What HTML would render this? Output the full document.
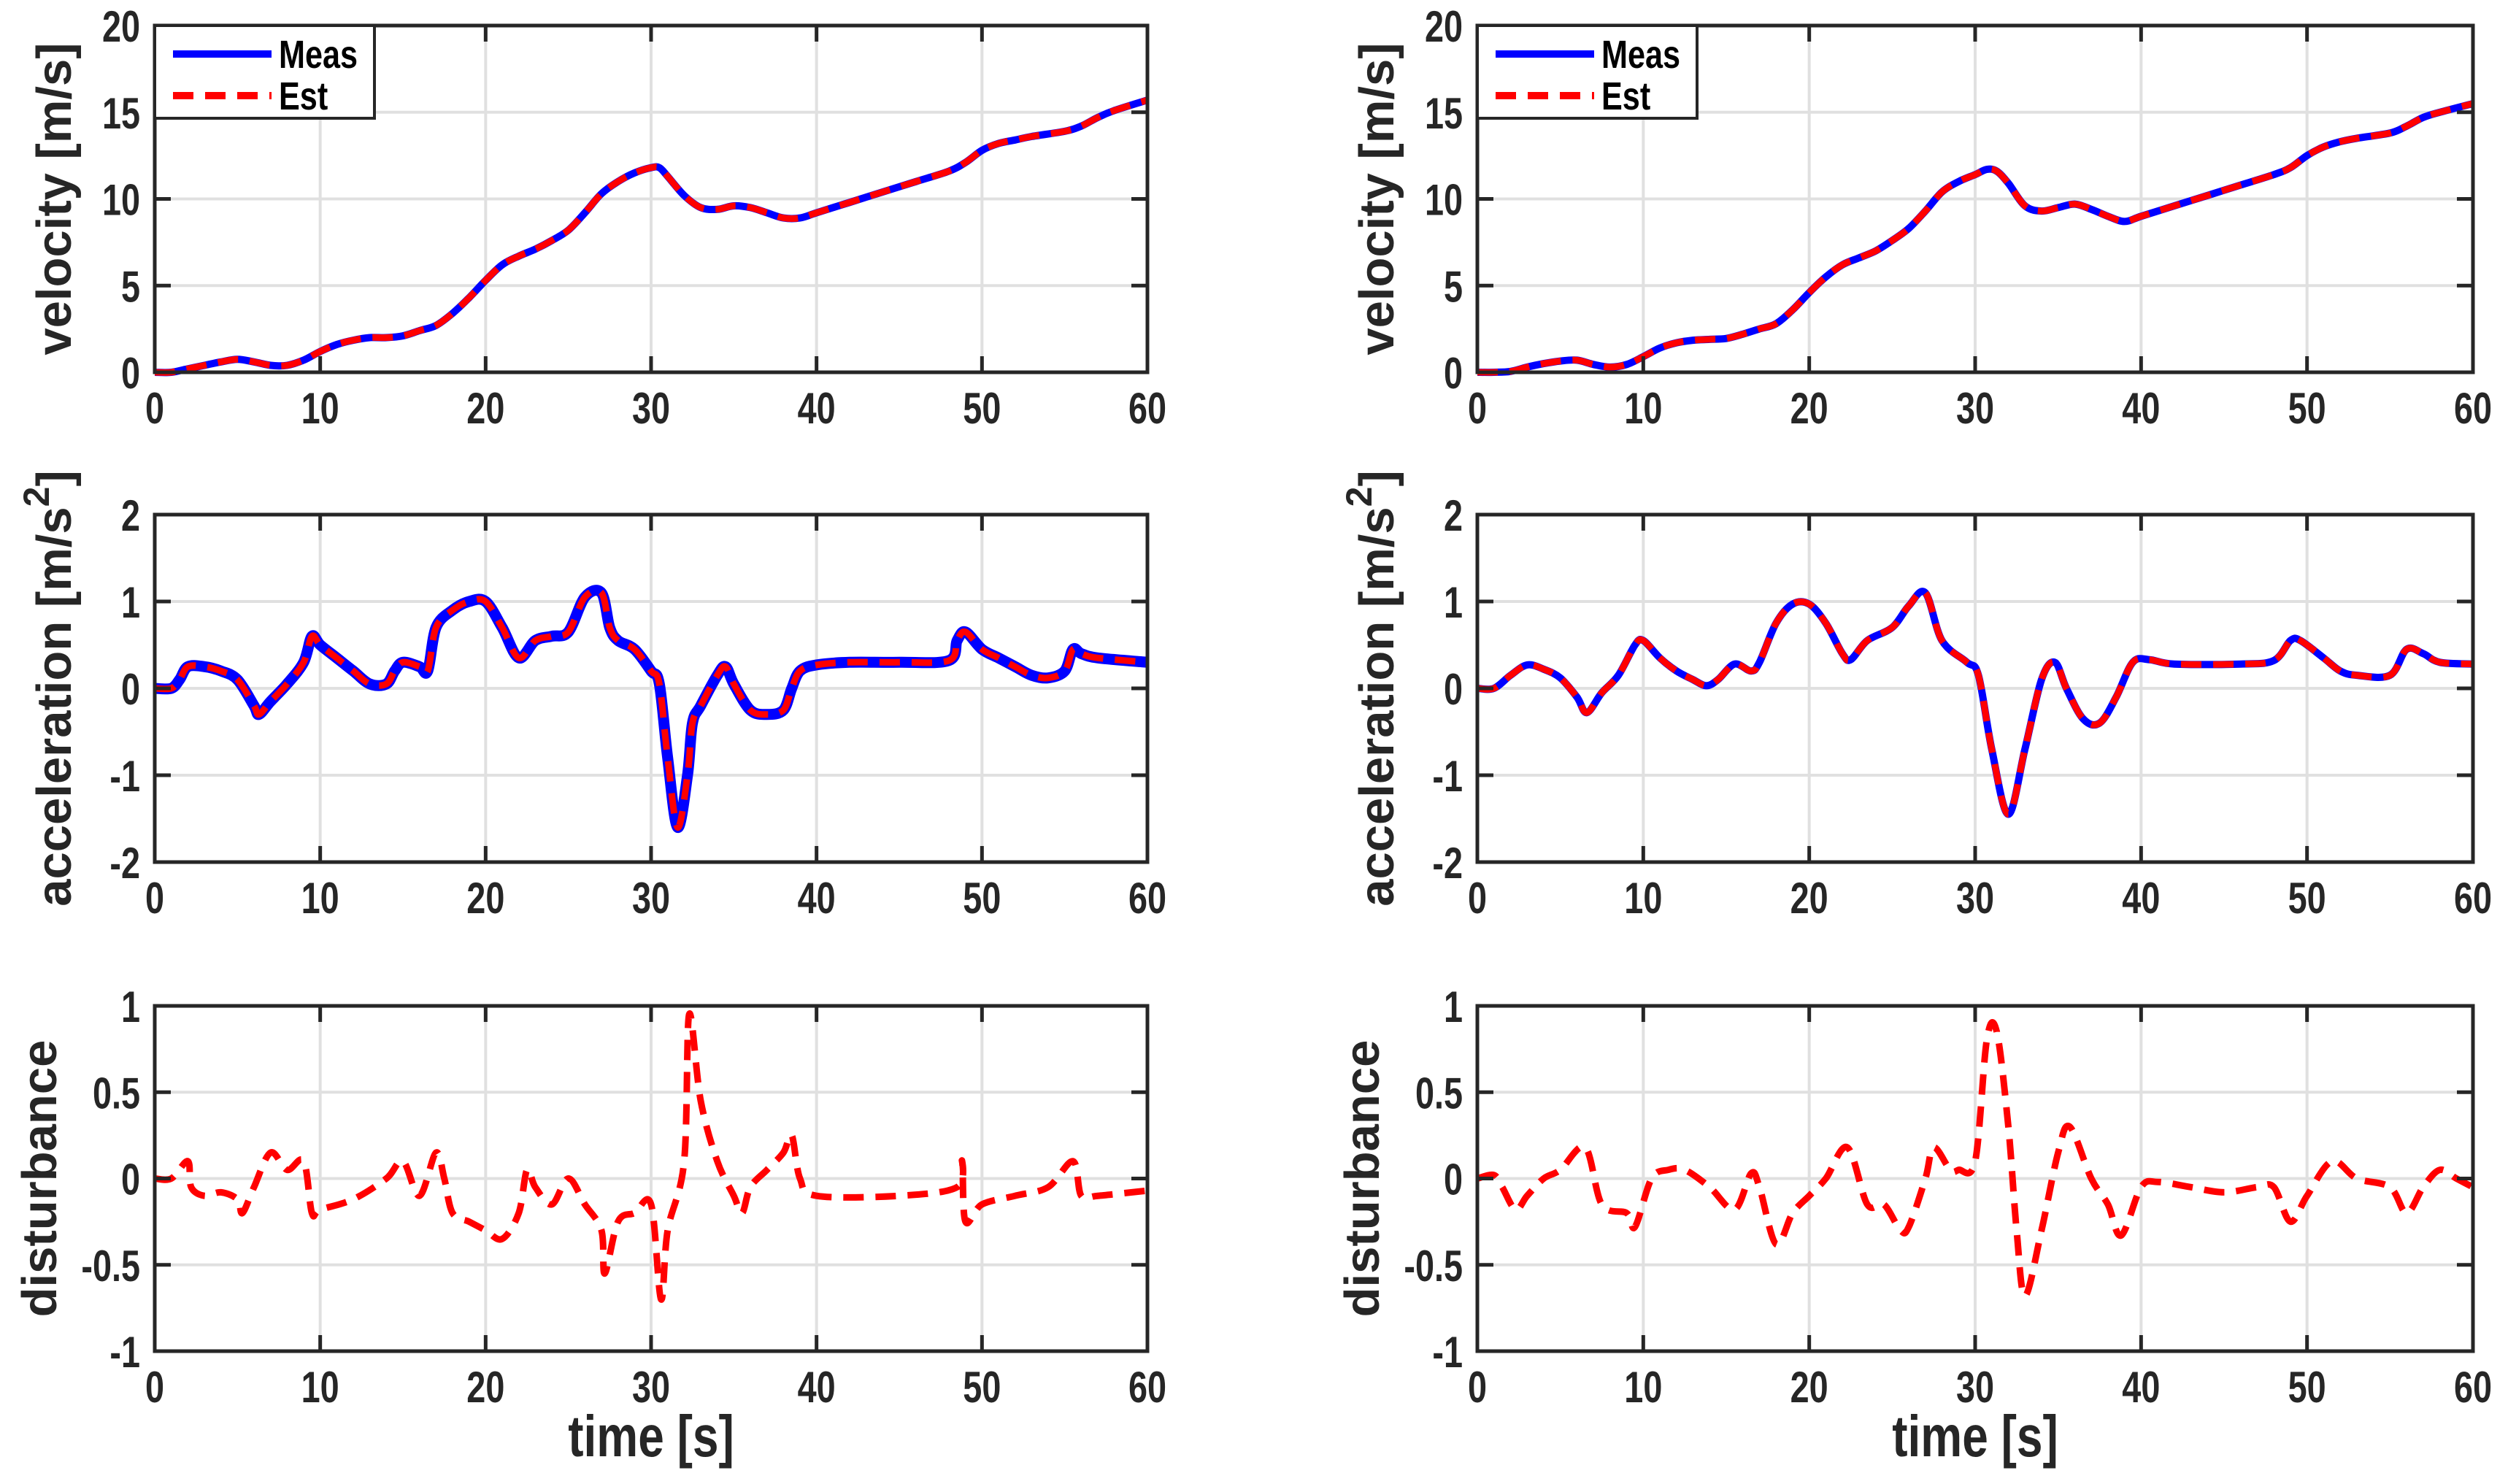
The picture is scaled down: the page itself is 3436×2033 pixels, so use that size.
<!DOCTYPE html>
<html><head><meta charset="utf-8">
<style>html,body{margin:0;padding:0;background:#fff;}svg{display:block;}</style></head>
<body>
<svg id="fig" width="3436" height="2033" viewBox="0 0 3436 2033" xmlns="http://www.w3.org/2000/svg"></svg>
<script>
const xTicks=[0,10,20,30,40,50,60];
const velTicks=[0,5,10,15,20];
const accTicks=[-2,-1,0,1,2];
const distTicks=[-1,-0.5,0,0.5,1];

const velLT=[0,1,2,3,4,5,6,7,8,9,10,11,12,13,14,15,16,17,18,19,20,21,22,23,24,25,26,27,28,29,30,30.5,31,32,33,34,35,36,37,38,39,40,42,44,46,48,49,50,51,52,53,55,56,57,58,60];
const velLV=[0,0,0.2,0.4,0.6,0.75,0.6,0.4,0.4,0.7,1.2,1.6,1.85,2.0,2.0,2.1,2.4,2.7,3.4,4.3,5.3,6.2,6.7,7.1,7.6,8.2,9.2,10.3,11.0,11.5,11.8,11.8,11.3,10.2,9.5,9.4,9.6,9.5,9.2,8.9,8.9,9.2,9.8,10.4,11.0,11.6,12.1,12.8,13.2,13.4,13.6,13.9,14.2,14.7,15.1,15.7];
const velRT=[0,1,2,3,4,5,6,7,8,9,10,11,12,13,14,15,16,17,18,19,20,21,22,23,24,25,26,27,28,29,30,30.7,31.3,32,33,34,35,36,37,38,39,40,42,44,46,48,49,50,51,52,53,55,56,57,58,60];
const velRV=[0,0,0.05,0.3,0.5,0.65,0.7,0.45,0.3,0.45,0.9,1.4,1.7,1.85,1.9,1.95,2.2,2.5,2.8,3.6,4.6,5.5,6.2,6.6,7.0,7.6,8.3,9.3,10.4,11.0,11.4,11.7,11.6,10.9,9.6,9.3,9.5,9.7,9.4,9.0,8.7,9.0,9.6,10.2,10.8,11.4,11.8,12.5,13.0,13.3,13.5,13.8,14.2,14.7,15.0,15.5];

const accLT=[0,1,1.5,2,3,4,5,6,6.3,7,8,9,9.5,10,11,12,13,14,14.5,15,16,16.5,17,18,19,20,21,22,23,24,25,26,27,27.5,28,29,30,30.5,31,31.6,32.2,32.5,33,34,34.5,35,36,37,38,38.5,39,40,42,45,48,48.5,49,50,51,52,53,54,55,55.5,56,57,60];
const accLV=[0,0,0.1,0.25,0.25,0.2,0.1,-0.2,-0.3,-0.15,0.05,0.3,0.6,0.5,0.35,0.2,0.05,0.05,0.2,0.3,0.25,0.2,0.7,0.9,1.0,1.0,0.7,0.35,0.55,0.6,0.65,1.05,1.1,0.7,0.55,0.45,0.2,0.05,-0.8,-1.6,-1.0,-0.4,-0.2,0.15,0.25,0.05,-0.25,-0.3,-0.25,0.0,0.2,0.27,0.3,0.3,0.32,0.55,0.65,0.45,0.35,0.25,0.15,0.12,0.2,0.45,0.4,0.35,0.3];
const accRT=[0,1,2,3,4,5,6,6.6,7.5,8.5,9.5,10,11,12,13,13.8,14.5,15.5,16.5,17,18,19,20,21,22,22.5,23.5,25,26,27,28,29.5,30.2,31,32,33,34,34.8,35.5,36.5,37.5,38.5,39.5,40.5,42,46,48,49,49.6,51,52,53,55,56,57,58,60];
const accRV=[0,0,0.15,0.27,0.22,0.12,-0.1,-0.28,-0.05,0.15,0.5,0.55,0.35,0.2,0.1,0.03,0.1,0.28,0.2,0.3,0.75,0.97,0.97,0.75,0.4,0.33,0.55,0.7,0.95,1.1,0.55,0.3,0.15,-0.7,-1.45,-0.7,0.1,0.3,0.0,-0.35,-0.4,-0.1,0.3,0.33,0.28,0.28,0.32,0.55,0.55,0.35,0.2,0.15,0.15,0.45,0.4,0.3,0.28];

const disLT=[0,1,2,2.2,3,4,5,5.3,6,7,8,9,9.5,10,12,14,15,16,17,17.5,18,19,20,21,22,22.5,23,24,25,26,27,27.2,28,29,30,30.6,31,32,32.3,33,34,35,35.5,36,37,38,38.5,39,40,45,48.5,48.8,49,50,52,54,55.5,56,57,60];
const disLV=[0,0,0.1,-0.05,-0.1,-0.08,-0.12,-0.2,-0.05,0.15,0.05,0.1,-0.2,-0.18,-0.12,0.0,0.1,-0.1,0.15,0.0,-0.2,-0.25,-0.3,-0.35,-0.2,0.05,-0.05,-0.15,0.0,-0.15,-0.3,-0.55,-0.25,-0.2,-0.15,-0.7,-0.3,0.1,0.95,0.45,0.1,-0.1,-0.2,-0.05,0.05,0.15,0.25,0.0,-0.1,-0.1,-0.05,0.1,-0.25,-0.15,-0.1,-0.05,0.1,-0.1,-0.1,-0.07];
const disRT=[0,1,1.5,2.3,3,4,5,6.5,7.5,9,9.5,10.5,11.5,12.5,14,15.5,16.5,17,18,19,20,21,22.3,23.5,24.5,25.5,26,27,27.5,28.5,29,30,30.7,31.3,32,32.5,33,34,35,35.7,37,38,38.8,40,41,43,45,47,48,49,50,51.5,53,55,56,57,58,59,60];
const disRV=[0,0.02,-0.05,-0.18,-0.1,0,0.05,0.18,-0.15,-0.2,-0.28,0,0.05,0.05,-0.05,-0.18,0.03,-0.05,-0.38,-0.2,-0.1,0,0.18,-0.15,-0.15,-0.3,-0.28,0,0.18,0.05,0.05,0.1,0.8,0.85,0.3,-0.3,-0.68,-0.3,0.15,0.3,0,-0.15,-0.33,-0.05,-0.02,-0.05,-0.08,-0.05,-0.05,-0.25,-0.1,0.1,0,-0.05,-0.2,-0.05,0.05,0,-0.05];

const NS='http://www.w3.org/2000/svg';
const svg=document.getElementById('fig');
function mk(tag,attrs,parent){const e=document.createElementNS(NS,tag);for(const k in attrs)e.setAttribute(k,attrs[k]);(parent||svg).appendChild(e);return e;}

const cols=[{x0:212,x1:1572},{x0:2024,x1:3388}];
const rows=[{y0:35,y1:510},{y0:705,y1:1181},{y0:1378,y1:1851}];
const FONT='Liberation Sans, sans-serif';

function smoothPath(pts){
  let d='M'+pts[0][0].toFixed(1)+' '+pts[0][1].toFixed(1);
  for(let i=0;i<pts.length-1;i++){
    const p0=pts[i-1]||pts[i],p1=pts[i],p2=pts[i+1],p3=pts[i+2]||p2;
    const c1=[p1[0]+(p2[0]-p0[0])/6,p1[1]+(p2[1]-p0[1])/6];
    const c2=[p2[0]-(p3[0]-p1[0])/6,p2[1]-(p3[1]-p1[1])/6];
    d+=` C${c1[0].toFixed(1)} ${c1[1].toFixed(1)} ${c2[0].toFixed(1)} ${c2[1].toFixed(1)} ${p2[0].toFixed(1)} ${p2[1].toFixed(1)}`;
  }
  return d;
}

function axes(ci,ri,ticks,ymin,ymax,ylabel,name,series,legend,timeLabel){
  const c=cols[ci],r=rows[ri];
  const g=mk('g',{});
  
  
  const sx=v=>c.x0+v/60*(c.x1-c.x0);
  const sy=v=>r.y1-(v-ymin)/(ymax-ymin)*(r.y1-r.y0);
  xTicks.forEach(t=>{const l=mk('line',{x1:sx(t),x2:sx(t),y1:r.y0,y2:r.y1,stroke:'#e0e0e0','stroke-width':4},g);});
  ticks.forEach(t=>{const l=mk('line',{x1:c.x0,x2:c.x1,y1:sy(t),y2:sy(t),stroke:'#e0e0e0','stroke-width':4},g);});
  series.forEach(s=>{
    const pts=s.t.map((t,i)=>[sx(t),sy(s.v[i])]);
    const p=mk('path',{d:smoothPath(pts),fill:'none',stroke:s.color,'stroke-width':s.w,'stroke-linejoin':'round','stroke-dasharray':s.dash||'none'},g);
    
    
  });
  mk('rect',{x:c.x0,y:r.y0,width:c.x1-c.x0,height:r.y1-r.y0,fill:'none',stroke:'#262626','stroke-width':5},g);
  xTicks.forEach(t=>{
    mk('line',{x1:sx(t),x2:sx(t),y1:r.y1,y2:r.y1-22,stroke:'#262626','stroke-width':5},g);
    mk('line',{x1:sx(t),x2:sx(t),y1:r.y0,y2:r.y0+22,stroke:'#262626','stroke-width':5},g);
    const tx=mk('text',{x:0,y:0,transform:`translate(${sx(t)},${r.y1+70}) scale(0.78,1)`,'text-anchor':'middle','font-family':FONT,'font-weight':'bold','font-size':60,fill:'#262626'},g);
    tx.textContent=t;
    
    
  });
  ticks.forEach(t=>{
    mk('line',{x1:c.x0,x2:c.x0+22,y1:sy(t),y2:sy(t),stroke:'#262626','stroke-width':5},g);
    mk('line',{x1:c.x1,x2:c.x1-22,y1:sy(t),y2:sy(t),stroke:'#262626','stroke-width':5},g);
    const tx=mk('text',{x:0,y:0,transform:`translate(${c.x0-20},${sy(t)+22}) scale(0.78,1)`,'text-anchor':'end','font-family':FONT,'font-weight':'bold','font-size':60,fill:'#262626'},g);
    tx.textContent=t;
    
    
  });
  const ylx = ylabel==='disturbance' ? c.x0-135 : c.x0-115;
  const yl=mk('text',{x:0,y:0,transform:`translate(${ylx},${(r.y0+r.y1)/2}) rotate(-90)`,'text-anchor':'middle','font-family':FONT,'font-weight':'bold','font-size':67,fill:'#262626'},g);
  
  
  if(ylabel==='acc'){
    yl.innerHTML='acceleration [m/s<tspan dy="-30" font-size="50">2</tspan><tspan dy="30">]</tspan>';
  } else yl.textContent=ylabel;
  if(timeLabel){
    const t3=mk('text',{x:0,y:0,transform:`translate(${(c.x0+c.x1)/2},${1995}) scale(0.8,1)`,'text-anchor':'middle','font-family':FONT,'font-weight':'bold','font-size':80,fill:'#262626'},g);
    t3.textContent='time [s]';
    
    
  }
  if(legend){
    const lg=mk('g',{},g);
    
    
    mk('rect',{x:c.x0,y:r.y0,width:301,height:127,fill:'#fff',stroke:'#262626','stroke-width':4},lg);
    mk('line',{x1:c.x0+25,x2:c.x0+160,y1:r.y0+39,y2:r.y0+39,stroke:'#0000ff','stroke-width':10},lg);
    mk('line',{x1:c.x0+25,x2:c.x0+160,y1:r.y0+96,y2:r.y0+96,stroke:'#ff0000','stroke-width':10,'stroke-dasharray':'28 16'},lg);
    const m=mk('text',{x:0,y:0,transform:`translate(${c.x0+170},${r.y0+58}) scale(0.8,1)`,'font-family':FONT,'font-weight':'bold','font-size':54,fill:'#000'},lg);
    m.textContent='Meas';
    
    
    const e=mk('text',{x:0,y:0,transform:`translate(${c.x0+170},${r.y0+115}) scale(0.8,1)`,'font-family':FONT,'font-weight':'bold','font-size':54,fill:'#000'},lg);
    e.textContent='Est';
    
    
  }
}
const blue=(t,v,w)=>({t:t,v:v,color:'#0000ff',w:w,name:'meas-line'});
const red=(t,v)=>({t:t,v:v,color:'#ff0000',w:9,dash:'28 16',name:'est-line'});
axes(0,0,velTicks,0,20,'velocity [m/s]','velocity-plot-left',[blue(velLT,velLV,10),red(velLT,velLV)],true,false);
axes(1,0,velTicks,0,20,'velocity [m/s]','velocity-plot-right',[blue(velRT,velRV,10),red(velRT,velRV)],true,false);
axes(0,1,accTicks,-2,2,'acc','acceleration-plot-left',[blue(accLT,accLV,15),red(accLT,accLV)],false,false);
axes(1,1,accTicks,-2,2,'acc','acceleration-plot-right',[blue(accRT,accRV,10),red(accRT,accRV)],false,false);
axes(0,2,distTicks,-1,1,'disturbance','disturbance-plot-left',[red(disLT,disLV)],false,true);
axes(1,2,distTicks,-1,1,'disturbance','disturbance-plot-right',[red(disRT,disRV)],false,true);
</script>
</body></html>
